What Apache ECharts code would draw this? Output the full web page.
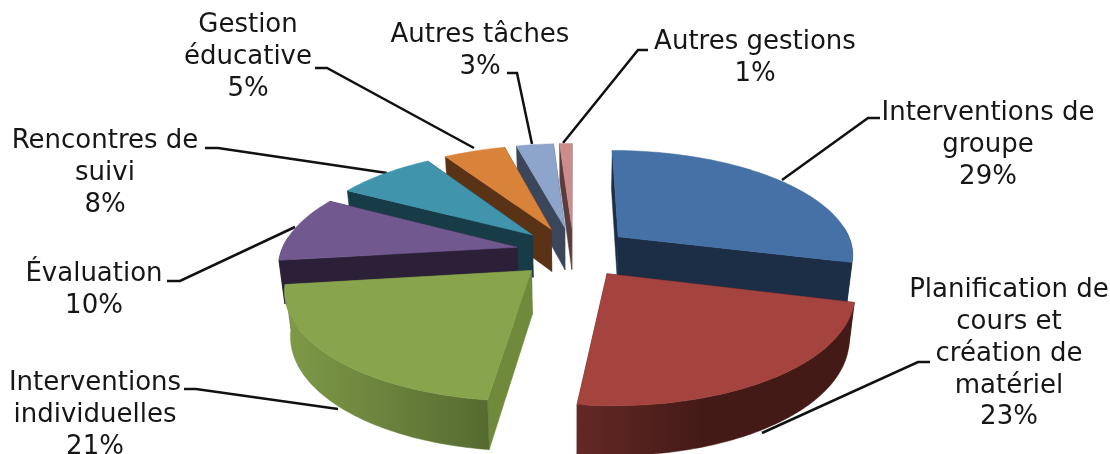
<!DOCTYPE html>
<html><head><meta charset="utf-8">
<style>html,body{margin:0;padding:0;background:#fff}#c{width:1110px;height:454px}</style>
<script src="https://cdn.jsdelivr.net/npm/echarts@6/dist/echarts.min.js"></script>
</head><body><div id="c"></div>
<script>
const categories = ['Interventions de\ngroupe','Planification de\ncours et\ncréation de\nmatériel','Interventions\nindividuelles','Évaluation','Rencontres de\nsuivi','Gestion\néducative','Autres tâches','Autres gestions'];
const values = [29,23,21,10,8,5,3,1];

const topColors = ['#4571a6','#a5433f','#88a54d','#71588f','#4095ad','#d9823a','#8ea5cb','#cb8c8b'];
const cutColors = ['#1b2e46','#4a1c19','#6f8a3b','#2b2038','#173b47','#5a3215','#3b465a','#5a3c3e'];
const rimStops = [
  ['#1b2e46','#1b2e46'],['#642825','#441a17'],['#7f9a48','#566a30'],['#2b2038','#2b2038'],
  ['#173b47','#173b47'],['#5a3215','#5a3215'],['#3b465a','#3b465a'],['#5a3c3e','#5a3c3e']
];
const labelAt = [[988,145],[1009,354],[95,415],[94,290],[105,173],[248,57],[480,51],[755,58]];
const leaders = [
  [[880,118],[868,118],[782,180]],
  [[930,362],[918,362],[762,433]],
  [[184,389],[196,389],[338,409]],
  [[167,281],[180,281],[295,227]],
  [[205,148],[218,148],[387,173]],
  [[315,68],[327,68],[474,148]],
  [[507,73],[517,73],[532,144]],
  [[648,50],[638,50],[563,143]]
];

const CX=573.5, CY=252, RX=236, RY=104, K=0.155, EXPLODE=0.245, DEPTH=44, SHRINK=0.02;
const total = values.reduce((a,b)=>a+b,0);
const FONT = '"DejaVu Sans", Verdana, sans-serif';

function project(X,Y,low){
  const s=(1/(1-K*Y))*(low?1-SHRINK:1);
  return [CX+X*RX*s, CY+(Y*RY+(low?DEPTH:0))*s];
}
function sliceOf(i){
  let a=0; for(let j=0;j<i;j++) a+=values[j];
  const a0=a/total*2*Math.PI, a1=(a+values[i])/total*2*Math.PI, m=(a0+a1)/2;
  return {a0,a1,ax:EXPLODE*Math.sin(m),ay:-EXPLODE*Math.cos(m)};
}
function rimPoint(sl,a,low){return project(sl.ax+Math.sin(a),sl.ay-Math.cos(a),low);}
function arc(sl,a,b,low){
  const n=Math.max(2,Math.ceil(Math.abs(b-a)/0.02)),p=[];
  for(let t=0;t<=n;t++)p.push(rimPoint(sl,a+(b-a)*t/n,low));
  return p;
}
const order = values.map((_,i)=>i).sort((p,q)=>sliceOf(p).ay-sliceOf(q).ay);

function renderItem(params,api){
  const i=params.dataIndex, sl=sliceOf(i), base=100+order.indexOf(i)*10, kids=[];
  const apexT=project(sl.ax,sl.ay,false), apexB=project(sl.ax,sl.ay,true);
  const poly=(pts,fill,z)=>kids.push({type:'polygon',z2:base+z,shape:{points:pts},style:{fill:fill,stroke:fill,lineWidth:0.5}});
  // radial faces: the one facing away first, so the visible one stays on top
  [sl.a1,sl.a0].forEach((a,k)=>{
    const f=(i===2&&k===0)?rimStops[2][1]:cutColors[i];
    poly([apexT,rimPoint(sl,a,false),rimPoint(sl,a,true),apexB],f,k);
  });
  // outer wall, front half only
  const lo=Math.max(sl.a0,Math.PI/2-0.1), hi=Math.min(sl.a1,3*Math.PI/2+0.1);
  if(hi>lo){
    const pts=arc(sl,lo,hi,false).concat(arc(sl,lo,hi,true).reverse());
    const xs=pts.map(p=>p[0]), x0=Math.min.apply(null,xs), x1=Math.max.apply(null,xs);
    const c=rimStops[i];
    const fill={type:'linear',global:true,x:x0,y:0,x2:i===1?x0+(x1-x0)*0.45:x1,y2:0,colorStops:[{offset:0,color:c[0]},{offset:1,color:c[1]}]};
    poly(pts,fill,3);
  }
  // top face
  poly([apexT].concat(arc(sl,sl.a0,sl.a1,false)),topColors[i],5);
  // leader
  kids.push({type:'polyline',z2:10,shape:{points:leaders[i]},style:{fill:null,stroke:'#111',lineWidth:2.5}});
  // label
  kids.push({type:'text',z2:500,x:labelAt[i][0],y:labelAt[i][1],style:{
    text:categories[i]+'\n'+api.value(0)+'%',font:'26px '+FONT,fill:'#161616',
    align:'center',verticalAlign:'middle',lineHeight:31.8}});
  return {type:'group',children:kids};
}

const chart=echarts.init(document.getElementById('c'),null,{renderer:'canvas'});
chart.setOption({
  animation:false,
  backgroundColor:'#fff',
  series:[{type:'custom',coordinateSystem:'none',renderItem:renderItem,silent:true,clip:false,
    data:values.map((v,i)=>({name:categories[i],value:[v]}))}]
});
</script></body></html>
